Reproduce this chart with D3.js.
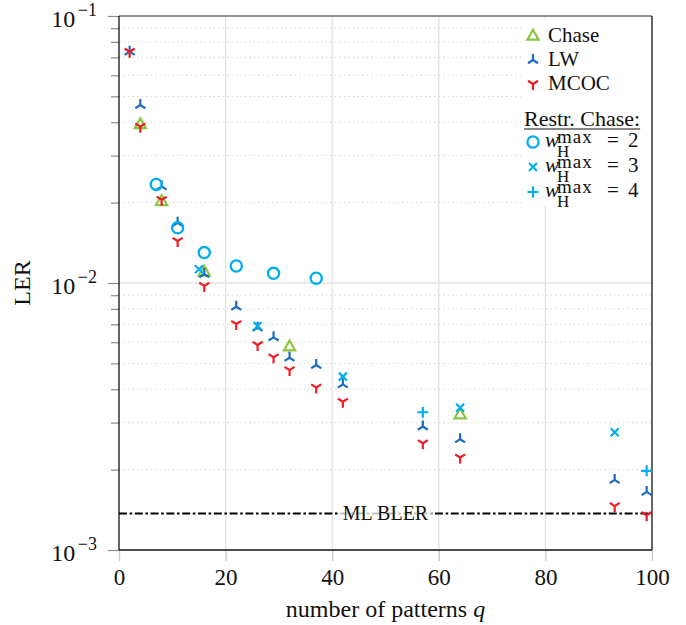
<!DOCTYPE html>
<html>
<head>
<meta charset="utf-8">
<script src="https://cdn.jsdelivr.net/npm/d3@7"></script>
<style>
  body { margin: 0; background: #fff; }
  text { font-family: "Liberation Serif", "Times New Roman", serif; }
</style>
</head>
<body>
<div id="chart"></div>
<script>
// data
var qAll = [2, 4, 8, 11, 16, 22, 26, 29, 32, 37, 42, 57, 64, 93, 99];
var lwLER = [0.0735, 0.0464, 0.0230, 0.0168, 0.0108, 0.00815, 0.0068, 0.00626, 0.00525, 0.00493, 0.00417, 0.0029, 0.0026, 0.00183, 0.00165];
var mcocLER = [0.0735, 0.0385, 0.0205, 0.01436, 0.00975, 0.00702, 0.00586, 0.00527, 0.00472, 0.00406, 0.00359, 0.00251, 0.00222, 0.00146, 0.00135];

var chaseQ = [4, 8, 16, 32, 64];
var chaseLER = [0.0392, 0.0202, 0.0110, 0.00577, 0.00321];

var w2Q = [7, 11, 16, 22, 29, 37];
var w2LER = [0.0234, 0.0161, 0.0130, 0.01158, 0.01087, 0.01042];
var w3Q = [15, 26, 42, 64, 93];
var w3LER = [0.01125, 0.0069, 0.00446, 0.00341, 0.00276];
var w4Q = [57, 99];
var w4LER = [0.00328, 0.00198];

var mlBler = 0.00137;

var xTicks = [0, 20, 40, 60, 80, 100];
var yMajor = [1e-3, 1e-2, 1e-1];
var yExp = ["\u22123", "\u22122", "\u22121"];

// set the dimensions and margins of the graph
var margin = {top: 16, right: 34, bottom: 75, left: 119},
    width = 686 - margin.left - margin.right,
    height = 625 - margin.top - margin.bottom;

var svg = d3.select("#chart")
  .append("svg")
    .attr("width", 686)
    .attr("height", 625)
  .append("g")
    .attr("transform", "translate(" + margin.left + "," + margin.top + ")");

var x = d3.scaleLinear().domain([0, 100]).range([0, width]);
var y = d3.scaleLog().domain([1e-3, 1e-1]).range([height, 0]);

// minor values 2..9 per decade
var yMinor = [];
[1e-3, 1e-2].forEach(function(d) {
  for (var k = 2; k <= 9; k++) yMinor.push(d * k);
});

// grid
svg.append("g").selectAll("line.vg")
  .data(xTicks.slice(1, -1)).enter().append("line")
    .attr("x1", function(d) { return x(d); })
    .attr("x2", function(d) { return x(d); })
    .attr("y1", 0).attr("y2", height)
    .style("stroke", "#e3e3e3").style("stroke-width", 1.3);

svg.append("g").selectAll("line.hm")
  .data(yMinor).enter().append("line")
    .attr("x1", 0).attr("x2", width)
    .attr("y1", function(d) { return y(d); })
    .attr("y2", function(d) { return y(d); })
    .style("stroke", "#cfcfcf").style("stroke-width", 1)
    .style("stroke-dasharray", "1.3,3.2");

svg.append("line")
  .attr("x1", 0).attr("x2", width)
  .attr("y1", y(1e-2)).attr("y2", y(1e-2))
  .style("stroke", "#e3e3e3").style("stroke-width", 1.3);

// x axis
var xAxis = svg.append("g")
  .attr("transform", "translate(0," + height + ")")
  .call(d3.axisBottom(x).tickValues(xTicks).tickSize(11).tickPadding(8));
xAxis.select(".domain").remove();
xAxis.selectAll(".tick line").style("stroke", "#c8c8c8").style("stroke-width", 1.3);
xAxis.selectAll(".tick text")
  .style("font-family", "Liberation Serif, serif")
  .style("font-size", "23px").style("fill", "#111");

// y axis, minor then major ticks
var yMinorAxis = svg.append("g")
  .call(d3.axisLeft(y).tickValues(yMinor).tickSize(8).tickFormat(""));
yMinorAxis.select(".domain").remove();
yMinorAxis.selectAll(".tick line").style("stroke", "#8a8a8a").style("stroke-width", 1.2);

var yAxis = svg.append("g")
  .call(d3.axisLeft(y).tickValues(yMajor).tickSize(11).tickFormat(""));
yAxis.select(".domain").remove();
yAxis.selectAll(".tick line").style("stroke", "#8a8a8a").style("stroke-width", 1.2);
yAxis.selectAll(".tick").each(function(d, i) {
  var t = d3.select(this).append("text")
    .attr("x", -22).attr("y", 10.5)
    .attr("text-anchor", "end")
    .style("font-family", "Liberation Serif, serif")
    .style("font-size", "24px").style("fill", "#111");
  t.append("tspan").text("10");
  t.append("tspan").attr("dx", 2.5).attr("dy", -11.5).style("font-size", "18px").text(yExp[i]);
});

// frame
svg.append("line").attr("x1", 0).attr("x2", width).attr("y1", 0).attr("y2", 0)
  .style("stroke", "#6e6e6e").style("stroke-width", 1.6);
svg.append("line").attr("x1", 0).attr("x2", width).attr("y1", height).attr("y2", height)
  .style("stroke", "#111").style("stroke-width", 1.3);
svg.append("line").attr("x1", 0).attr("x2", 0).attr("y1", 0).attr("y2", height)
  .style("stroke", "#111").style("stroke-width", 1.3);
svg.append("line").attr("x1", width).attr("x2", width).attr("y1", 0).attr("y2", height)
  .style("stroke", "#111").style("stroke-width", 1.3);

// axis labels
svg.append("text")
  .attr("x", width / 2).attr("y", height + 67)
  .attr("text-anchor", "middle")
  .style("font-size", "24px").style("fill", "#111")
  .text("number of patterns ")
  .append("tspan").style("font-style", "italic").text("q");

svg.append("text")
  .attr("transform", "translate(" + (30 - margin.left) + "," + y(1e-2) + ") rotate(-90)")
  .attr("text-anchor", "middle")
  .style("font-size", "24px").style("fill", "#111")
  .text("LER");

// ML BLER reference line
svg.append("line")
  .attr("x1", 0).attr("x2", width)
  .attr("y1", y(mlBler)).attr("y2", y(mlBler))
  .style("stroke", "#000").style("stroke-width", 2)
  .style("stroke-dasharray", "8,2.6,2.6,2.6");

var mlText = svg.append("text")
  .attr("x", x(50)).attr("y", y(mlBler) + 6.5)
  .attr("text-anchor", "middle")
  .style("font-size", "20px").style("fill", "#111")
  .text("ML BLER");
var bb = mlText.node().getBBox();
svg.append("rect")
  .attr("x", bb.x - 3).attr("y", y(mlBler) - 4)
  .attr("width", bb.width + 6).attr("height", 8)
  .style("fill", "#fff").style("opacity", 0.75);
mlText.raise();

// marker shapes
var colGreen = "#8cc63e", colBlue = "#1c6cbf", colRed = "#ec1c24", colCyan = "#00aeef";
var shapes = {
  triangle: "M0,-6.2L5.6,3.6L-5.6,3.6Z",
  triUp: "M0,0L0,-6M0,0L-5,3.2M0,0L5,3.2",
  triDown: "M0,0L0,6M0,0L-5,-3.2M0,0L5,-3.2",
  cross: "M-4,-4L4,4M-4,4L4,-4",
  plus: "M-5.5,0L5.5,0M0,-5.5L0,5.5"
};

function drawSeries(qs, vals, shape, color) {
  var g = svg.append("g");
  var pts = qs.map(function(q, i) { return {q: q, v: vals[i]}; });
  if (shape === "circle") {
    g.selectAll("circle").data(pts).enter().append("circle")
      .attr("cx", function(d) { return x(d.q); })
      .attr("cy", function(d) { return y(d.v); })
      .attr("r", 5.6)
      .style("fill", "none").style("stroke", color).style("stroke-width", 2.3);
  } else {
    g.selectAll("path").data(pts).enter().append("path")
      .attr("d", shapes[shape])
      .attr("transform", function(d) { return "translate(" + x(d.q) + "," + y(d.v) + ")"; })
      .style("fill", "none").style("stroke", color).style("stroke-width", 2.2);
  }
}

drawSeries(chaseQ, chaseLER, "triangle", colGreen);
drawSeries(qAll, lwLER, "triUp", colBlue);
drawSeries(qAll, mcocLER, "triDown", colRed);
drawSeries(w2Q, w2LER, "circle", colCyan);
drawSeries(w3Q, w3LER, "cross", colCyan);
drawSeries(w4Q, w4LER, "plus", colCyan);

// legend
var lg = svg.append("g").attr("transform", "translate(" + (521 - margin.left) + "," + (20 - margin.top) + ")");
lg.append("rect").attr("width", width - (521 - margin.left) - 1).attr("height", 186).style("fill", "#fff");

var legendItems = [
  {label: "Chase", shape: "triangle", color: colGreen, y: 16},
  {label: "LW", shape: "triUp", color: colBlue, y: 40},
  {label: "MCOC", shape: "triDown", color: colRed, y: 64}
];
legendItems.forEach(function(d) {
  lg.append("path").attr("d", shapes[d.shape])
    .attr("transform", "translate(12," + d.y + ")")
    .style("fill", "none").style("stroke", d.color).style("stroke-width", 2.2);
  lg.append("text").attr("x", 27).attr("y", d.y + 6)
    .style("font-size", "21px").style("fill", "#111").text(d.label);
});

var rc = lg.append("text").attr("x", 3).attr("y", 106)
  .style("font-size", "22px").style("fill", "#111").text("Restr. Chase:");
var rcw = rc.node().getComputedTextLength();
lg.append("line").attr("x1", 3).attr("x2", 3 + rcw).attr("y1", 109).attr("y2", 109)
  .style("stroke", "#111").style("stroke-width", 1);

var restr = [
  {n: "2", shape: "circle", y: 122},
  {n: "3", shape: "cross", y: 147},
  {n: "4", shape: "plus", y: 172}
];
restr.forEach(function(d) {
  if (d.shape === "circle") {
    lg.append("circle").attr("cx", 12).attr("cy", d.y).attr("r", 5.6)
      .style("fill", "none").style("stroke", colCyan).style("stroke-width", 2.3);
  } else {
    lg.append("path").attr("d", shapes[d.shape])
      .attr("transform", "translate(12," + d.y + ")")
      .style("fill", "none").style("stroke", colCyan).style("stroke-width", 2.2);
  }
  var base = d.y + 5;
  // w_H^max = n as one text with stacked scripts
  var t = lg.append("text").attr("x", 24).attr("y", base)
    .style("font-size", "21px").style("fill", "#111");
  t.append("tspan").style("font-style", "italic").text("w");
  t.append("tspan").attr("x", 36).attr("dy", -4.5)
    .style("font-size", "19px").style("letter-spacing", "1px").text("max");
  t.append("tspan").attr("x", 36).attr("dy", 14.5)
    .style("font-size", "17px").text("H");
  t.append("tspan").attr("x", 86).attr("dy", -10).text("=");
  t.append("tspan").attr("x", 107).text(d.n);
});
</script>
</body>
</html>
